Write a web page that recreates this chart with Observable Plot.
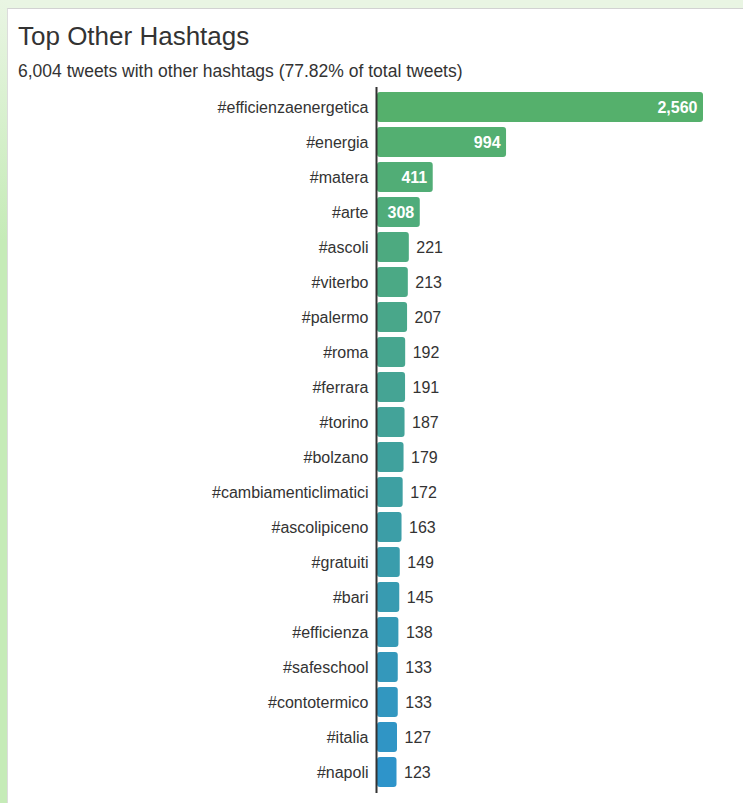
<!DOCTYPE html>
<html><head><meta charset="utf-8">
<script src="https://cdn.jsdelivr.net/npm/d3@7"></script>
<script src="https://cdn.jsdelivr.net/npm/@observablehq/plot@0.6"></script>
<style>
html,body{margin:0;padding:0;width:743px;height:803px;overflow:hidden;background:#e9f5e3;font-family:"Liberation Sans",Arial,sans-serif;}
#strip{position:absolute;left:0;top:0;width:7px;height:803px;background:linear-gradient(#e9f5e3,#c5ebb7 30%,#c5ebb7)}
#panel{position:absolute;left:7px;top:8px;width:760px;height:820px;background:#fff;border-top:1px solid #d2d2d2;border-left:1px solid #dcdcdc}
#title{position:absolute;left:18px;top:21px;font-size:26px;color:#333;white-space:nowrap}
#sub{position:absolute;left:18px;top:61px;font-size:17.5px;color:#333;white-space:nowrap}
#chart{position:absolute;left:0;top:84px}
</style></head>
<body>
<div id="strip"></div>
<div id="panel"></div>
<div id="title">Top Other Hashtags</div>
<div id="sub">6,004 tweets with other hashtags (77.82% of total tweets)</div>
<div id="chart"></div>
<script>
const hashtags = ["#efficienzaenergetica","#energia","#matera","#arte","#ascoli","#viterbo","#palermo","#roma","#ferrara","#torino","#bolzano","#cambiamenticlimatici","#ascolipiceno","#gratuiti","#bari","#efficienza","#safeschool","#contotermico","#italia","#napoli"];
const counts = [2560,994,411,308,221,213,207,192,191,187,179,172,163,149,145,138,133,133,127,123];
const colorRange = ["#55b06c","#2e94ca"];
const insideThreshold = 300;
const barBaseline = -40;

const data = hashtags.map((tag, i) => ({tag, count: counts[i], rank: i}));
const fmt = d3.format(",");

const chart = Plot.plot({
  width: 743,
  height: 712,
  marginLeft: 376,
  marginRight: 40,
  marginTop: 3,
  marginBottom: 3,
  x: {domain: [barBaseline, 2560], axis: null},
  y: {domain: hashtags, padding: 0.14, label: null, tickSize: 0, tickPadding: 8},
  color: {type: "linear", domain: [0, hashtags.length - 1], range: colorRange},
  style: {fontFamily: "'Liberation Sans', Arial, sans-serif", fontSize: "16px", color: "#333", background: "transparent"},
  marks: [
    Plot.barX(data, {x1: barBaseline, x2: "count", y: "tag", fill: "rank", rx: 3, insetLeft: 1}),
    Plot.text(data.filter(d => d.count > insideThreshold), {x: "count", y: "tag", text: d => fmt(d.count), textAnchor: "end", dx: -6, fill: "white", fontWeight: "bold", fontSize: 16}),
    Plot.text(data.filter(d => d.count <= insideThreshold), {x: "count", y: "tag", text: d => fmt(d.count), textAnchor: "start", dx: 7, fill: "#333", fontSize: 16}),
    Plot.ruleX([barBaseline], {stroke: "#333", strokeWidth: 2})
  ]
});
document.getElementById("chart").appendChild(chart);
</script>
</body></html>
